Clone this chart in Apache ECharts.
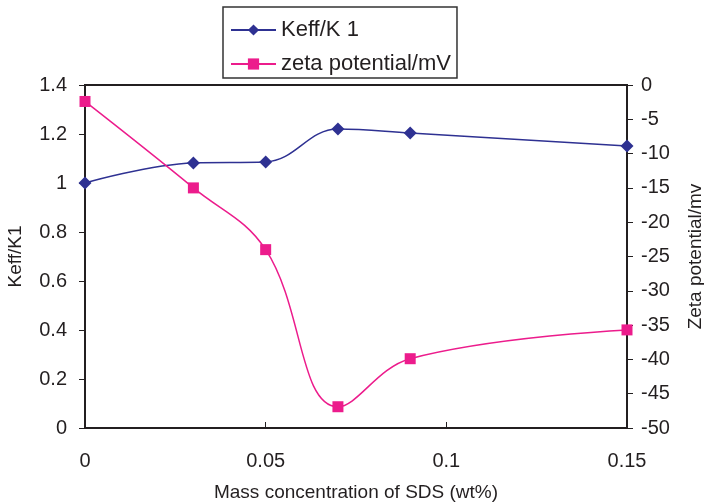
<!DOCTYPE html>
<html>
<head>
<meta charset="utf-8">
<script src="https://cdn.jsdelivr.net/npm/echarts@6/dist/echarts.min.js"></script>
<style>html,body{margin:0;padding:0;background:#fff;}#c{width:704px;height:504px;}</style>
</head>
<body>
<div id="c"></div>
<script>
const sdsConc = [0, 0.03, 0.05, 0.07, 0.09, 0.15];
const keffRatio = [1.0, 1.082, 1.086, 1.22, 1.204, 1.151];
const zetaPotential = [-2.4, -15.0, -24.0, -46.9, -39.9, -35.7];
const seriesNames = ['Keff/K 1', 'zeta potential/mV'];

const chart = echarts.init(document.getElementById('c'));
const font = 'Liberation Sans, Arial, sans-serif';
const axisColor = '#231f20';
const textColor = '#231f20';

chart.setOption({
  animation: false,
  backgroundColor: '#fff',
  textStyle: { fontFamily: font },
  grid: { left: 85, right: 77, top: 85, bottom: 76, containLabel: false, outerBoundsMode: 'none',
          show: true, borderColor: axisColor, borderWidth: 2, backgroundColor: 'transparent' },
  legend: {
    orient: 'vertical', left: 223, top: 7,
    backgroundColor: '#fff', borderColor: '#333', borderWidth: 1.5,
    padding: [12, 6, 3, 7],
    itemWidth: 45, itemHeight: 14, itemGap: 12,
    textStyle: { fontSize: 22, color: textColor, fontFamily: font },
    data: seriesNames
  },
  xAxis: {
    type: 'value', min: 0, max: 0.15, interval: 0.05,
    name: 'Mass concentration of SDS (wt%)', nameLocation: 'middle', nameGap: 55,
    nameTextStyle: { fontSize: 19, color: textColor },
    axisLine: { lineStyle: { color: axisColor, width: 2 } },
    axisTick: { inside: true, length: 6, lineStyle: { color: axisColor } },
    axisLabel: { fontSize: 20, color: textColor, margin: 23 },
    splitLine: { show: false }
  },
  yAxis: [{
    type: 'value', min: 0, max: 1.4, interval: 0.2, position: 'left',
    name: 'Keff/K1', nameLocation: 'middle', nameGap: 60, nameRotate: 90,
    nameTextStyle: { fontSize: 19, color: textColor },
    axisLine: { show: true, lineStyle: { color: axisColor, width: 2 } },
    axisTick: { show: true, length: 6, lineStyle: { color: axisColor } },
    axisLabel: { fontSize: 20, color: textColor, margin: 18 },
    splitLine: { show: false }
  }, {
    type: 'value', min: -50, max: 0, interval: 5, position: 'right',
    name: 'Zeta potential/mv', nameLocation: 'middle', nameGap: 59, nameRotate: 90,
    nameTextStyle: { fontSize: 19, color: textColor },
    axisLine: { show: true, lineStyle: { color: axisColor, width: 2 } },
    axisTick: { show: true, length: 6, lineStyle: { color: axisColor } },
    axisLabel: { fontSize: 20, color: textColor, margin: 14 },
    splitLine: { show: false }
  }],
  series: [{
    name: seriesNames[0], type: 'line', yAxisIndex: 0, smooth: 0.4,
    data: sdsConc.map((x, i) => [x, keffRatio[i]]),
    symbol: 'diamond', symbolSize: 13,
    lineStyle: { color: '#2e3192', width: 1.5 },
    itemStyle: { color: '#2e3192' }
  }, {
    name: seriesNames[1], type: 'line', yAxisIndex: 1, smooth: 0.4,
    data: sdsConc.map((x, i) => [x, zetaPotential[i]]),
    symbol: 'rect', symbolSize: 11,
    lineStyle: { color: '#ec1c8c', width: 1.5 },
    itemStyle: { color: '#ec1c8c' }
  }]
});
</script>
</body>
</html>
